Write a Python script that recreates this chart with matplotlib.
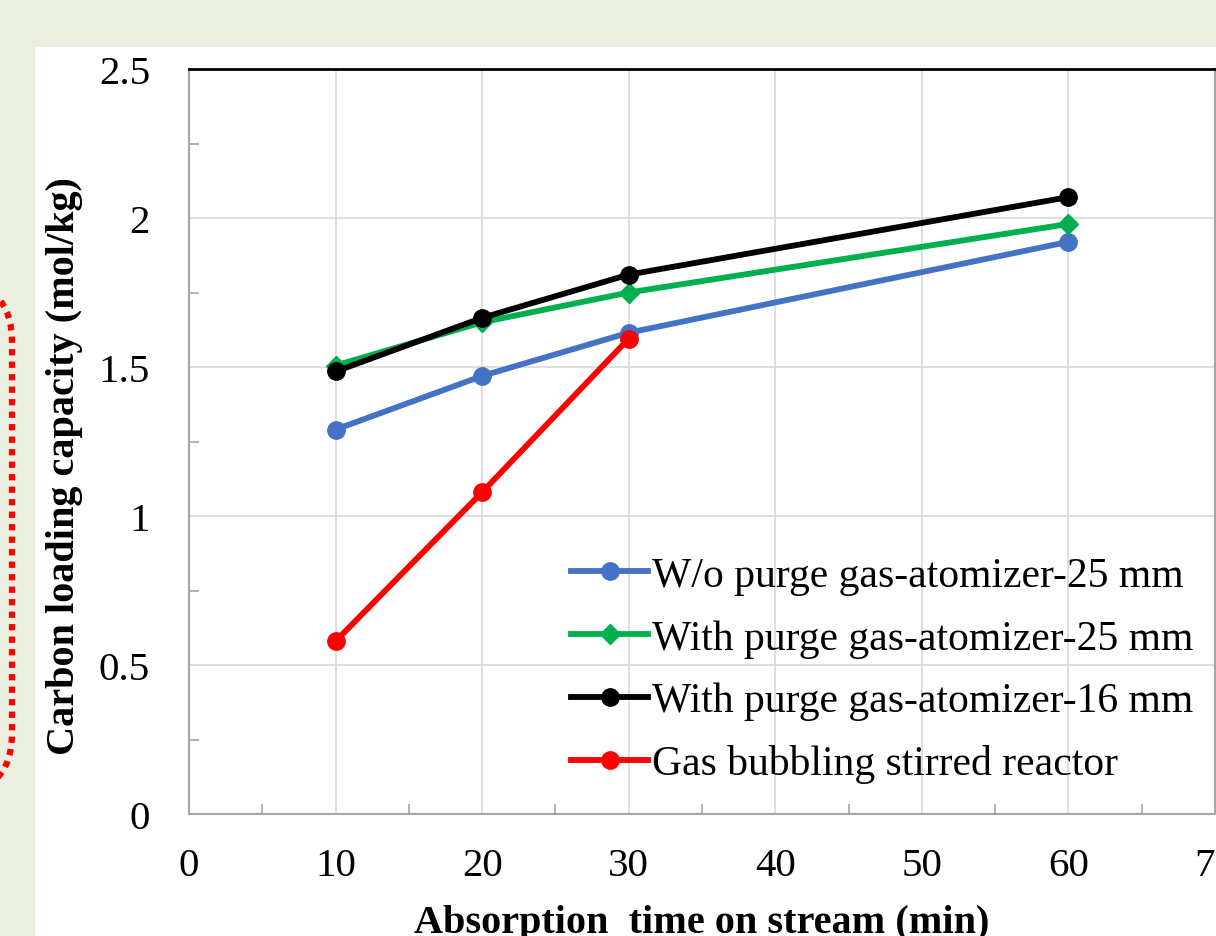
import matplotlib
matplotlib.use('Agg')
import matplotlib.pyplot as plt
from matplotlib.patches import Rectangle, FancyBboxPatch
from matplotlib.ticker import MultipleLocator

# absorption time on stream (min)
time_min = [10, 20, 30, 60]
time_red = [10, 20, 30]

# carbon loading capacity (mol/kg)
wo_purge_25 = [1.29, 1.47, 1.615, 1.92]
with_purge_25 = [1.505, 1.65, 1.75, 1.98]
with_purge_16 = [1.485, 1.665, 1.81, 2.07]
bubbling = [0.58, 1.08, 1.595]

labels = ['W/o purge gas-atomizer-25 mm',
          'With purge gas-atomizer-25 mm',
          'With purge gas-atomizer-16 mm',
          'Gas bubbling stirred reactor']

plt.rcParams['font.family'] = ['Liberation Serif', 'DejaVu Serif']

W, H = 1216, 937
fig = plt.figure(figsize=(W / 100, H / 100), dpi=100, facecolor='#EBEFDF')

# white panel behind the chart
fig.patches.append(Rectangle((35 / W, 0), 1, 1 - 48 / H, transform=fig.transFigure,
                             facecolor='white', edgecolor='none', zorder=-2))

# red dotted box peeking in from the left
fig.patches.append(FancyBboxPatch((-1.0, (H - 794) / 100), 1.12, (794 - 283) / 100,
                                  boxstyle='round,pad=0,rounding_size=0.6',
                                  transform=fig.dpi_scale_trans, facecolor='none',
                                  edgecolor='#FF0000', linewidth=4.5,
                                  linestyle=(0, (1, 1)), zorder=-1))

ax = fig.add_axes([189 / W, 1 - 815 / H, (1215 - 189) / W, (815 - 70) / H])
ax.set_facecolor('white')

lw = 4.2
ax.plot(time_min, wo_purge_25, color='#4472C4', lw=lw, marker='o', ms=12.5, label=labels[0])
ax.plot(time_min, with_purge_25, color='#00B050', lw=lw, marker='D', ms=10.5, label=labels[1])
ax.plot(time_min, with_purge_16, color='black', lw=lw, marker='o', ms=12.5, label=labels[2])
ax.plot(time_red, bubbling, color='#FF0000', lw=lw, marker='o', ms=12.5, label=labels[3])

ax.set_xlim(0, 70)
ax.set_ylim(0, 2.5)
ax.xaxis.set_major_locator(MultipleLocator(10))
ax.xaxis.set_minor_locator(MultipleLocator(5))
ax.yaxis.set_minor_locator(MultipleLocator(0.25))
ax.set_yticks([0, 0.5, 1, 1.5, 2, 2.5])
ax.set_yticklabels(['0', '0.5', '1', '1.5', '2', '2.5'])

ax.grid(True, which='major', color='#D9D9D9', lw=1.2)
ax.set_axisbelow(True)

ax.tick_params(which='major', length=0, labelsize=29.5, pad=24)
ax.tick_params(axis='y', which='major', pad=28)
ax.tick_params(which='minor', direction='in', length=7, width=1.2, color='#A6A6A6')

for side in ['left', 'bottom', 'right']:
    ax.spines[side].set_color('#A6A6A6')
    ax.spines[side].set_linewidth(1.5)
ax.spines['top'].set_color('black')
ax.spines['top'].set_linewidth(2)

fig.text(702 / W, 1 - 933 / H, 'Absorption  time on stream (min)', fontsize=29,
         fontweight='bold', ha='center', va='baseline')
fig.text(65 / W, 1 - 466 / H, 'Carbon loading capacity (mol/kg)', fontsize=29,
         fontweight='bold', ha='center', va='center', rotation=90)

ax.legend(loc='center left', bbox_to_anchor=(571 / W, 1 - 671 / H),
          bbox_transform=fig.transFigure, frameon=False, fontsize=30,
          handlelength=1.85, handletextpad=0.1, labelspacing=0.58,
          borderpad=0, borderaxespad=0)

fig.savefig('out.png', dpi=100, facecolor=fig.get_facecolor())
